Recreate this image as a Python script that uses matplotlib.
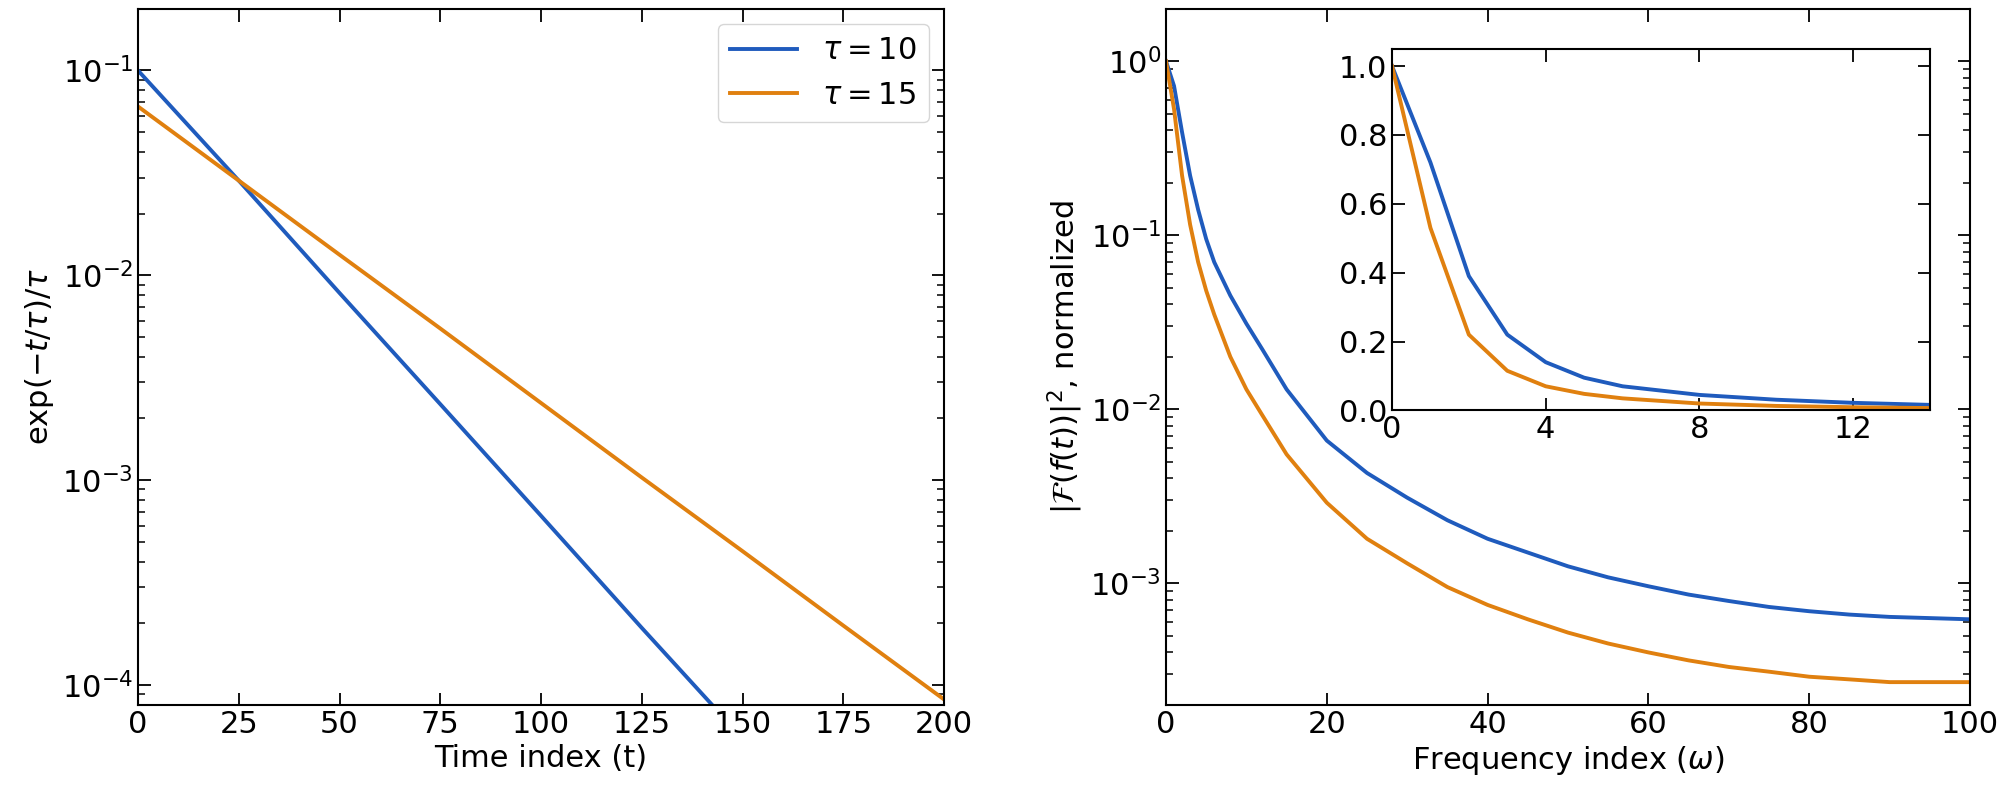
import matplotlib
matplotlib.use("Agg")
import matplotlib.pyplot as plt

t = [0, 25, 50, 75, 100, 125, 150, 175, 200]
decay_tau10 = [0.1, 2.9e-2, 8.2e-3, 2.35e-3, 6.7e-4, 1.9e-4, 5.5e-5, 1.6e-5, 4.5e-6]
decay_tau15 = [0.0667, 2.9e-2, 1.26e-2, 5.5e-3, 2.38e-3, 1.03e-3, 4.5e-4, 1.95e-4, 8.5e-5]
t = [0, 25, 50, 75, 100, 125, 150, 175, 200]
t = [0, 12.5, 25, 37.5, 50, 62.5, 75, 87.5, 100] if False else [0, 25, 50, 75, 100, 125, 150, 175, 200]
t_vals = [0, 12.5, 25, 37.5, 50, 62.5, 75, 87.5, 100, 112.5, 125, 137.5, 150, 162.5, 175, 187.5, 200]
t = [0, 25, 50, 75, 100, 125, 150, 175, 200]
decay_tau10 = [0.1, 8.2e-3, 6.7e-4, 5.5e-5, 4.5e-6, 3.7e-7, 3.0e-8, 2.5e-9, 2.0e-10]
decay_tau15 = [0.0667, 1.26e-2, 2.38e-3, 4.5e-4, 8.5e-5, 1.6e-5, 3.0e-6, 5.7e-7, 1.08e-7]
t = [0, 50, 100, 150, 200]
decay_tau10 = [0.1, 6.7e-4, 4.5e-6, 3.0e-8, 2.0e-10]
decay_tau15 = [0.0667, 2.38e-3, 8.5e-5, 3.0e-6, 1.08e-7]
t = [0, 50, 100, 150, 200]
decay_tau10 = [0.1, 6.7e-4, 4.5e-6, 3.0e-8, 2.0e-10]
decay_tau15 = [0.0667, 2.38e-3, 8.5e-5, 3.0e-6, 1.08e-7]
t = [0, 25, 50, 75, 100, 125, 150, 175, 200]
decay_tau10 = [0.1, 2.9e-2, 8.2e-3, 2.35e-3, 6.7e-4, 1.9e-4, 5.5e-5, 1.6e-5, 4.5e-6]
decay_tau15 = [0.0667, 2.9e-2, 1.26e-2, 5.5e-3, 2.38e-3, 1.03e-3, 4.5e-4, 1.95e-4, 8.5e-5]

omega = [0, 1, 2, 3, 4, 5, 6, 8, 10, 12, 15, 20, 25, 30, 35, 40, 45, 50, 55, 60,
         65, 70, 75, 80, 85, 90, 95, 100]
spec_tau10 = [1, 0.72, 0.39, 0.22, 0.14, 0.095, 0.07, 0.045, 0.031, 0.022, 0.013,
              0.0066, 0.0043, 0.0031, 0.0023, 0.0018, 0.0015, 0.00125, 0.00108, 0.00096,
              0.00086, 0.00079, 0.00073, 0.00069, 0.00066, 0.00064, 0.00063, 0.00062]
spec_tau15 = [1, 0.53, 0.22, 0.115, 0.07, 0.048, 0.035, 0.02, 0.013, 0.0092, 0.0055,
              0.0029, 0.0018, 0.0013, 0.00095, 0.00075, 0.00062, 0.00052, 0.00045, 0.0004,
              0.00036, 0.00033, 0.00031, 0.00029, 0.00028, 0.00027, 0.00027, 0.00027]

labels = [r'$\tau = 10$', r'$\tau = 15$']
blue, orange = '#1f5bbd', '#e0800f'

plt.rcParams['font.size'] = 22
fig = plt.figure(figsize=(20, 8), dpi=100)

def style(ax):
    ax.tick_params(which='both', direction='in', top=True, right=True)
    ax.tick_params(which='major', length=9, width=1.3)
    ax.tick_params(which='minor', length=5, width=1.1)
    for s in ax.spines.values():
        s.set_linewidth(1.5)

ax1 = fig.add_axes([0.069, 0.119, 0.403, 0.870])
ax1.plot(t, decay_tau10, color=blue, lw=2.8, label=labels[0])
ax1.plot(t, decay_tau15, color=orange, lw=2.8, label=labels[1])
ax1.set_yscale('log')
ax1.set_xlim(0, 200)
ax1.set_ylim(8e-5, 0.2)
ax1.set_xticks([0, 25, 50, 75, 100, 125, 150, 175, 200])
ax1.set_xlabel('Time index (t)')
ax1.set_ylabel(r'$\exp(-t/\tau)/\tau$')
ax1.legend(loc='upper right', fontsize=22, handlelength=2.2)
style(ax1)

ax2 = fig.add_axes([0.583, 0.119, 0.402, 0.870])
ax2.plot(omega, spec_tau10, color=blue, lw=2.8)
ax2.plot(omega, spec_tau15, color=orange, lw=2.8)
ax2.set_yscale('log')
ax2.set_xlim(0, 100)
ax2.set_ylim(2e-4, 2)
ax2.set_xlabel(r'Frequency index ($\omega$)')
ax2.set_ylabel(r'$|\mathcal{F}(f(t))|^2$, normalized')
style(ax2)

ax3 = fig.add_axes([0.696, 0.487, 0.269, 0.452])
ax3.plot(omega, spec_tau10, color=blue, lw=2.8)
ax3.plot(omega, spec_tau15, color=orange, lw=2.8)
ax3.set_xlim(0, 14)
ax3.set_ylim(0, 1.05)
ax3.set_xticks([0, 4, 8, 12])
ax3.set_yticks([0, 0.2, 0.4, 0.6, 0.8, 1.0])
ax3.tick_params(which='both', direction='in', top=True, right=True, length=9, width=1.3)
for s in ax3.spines.values():
    s.set_linewidth(1.5)

fig.savefig('out.png', dpi=100)
